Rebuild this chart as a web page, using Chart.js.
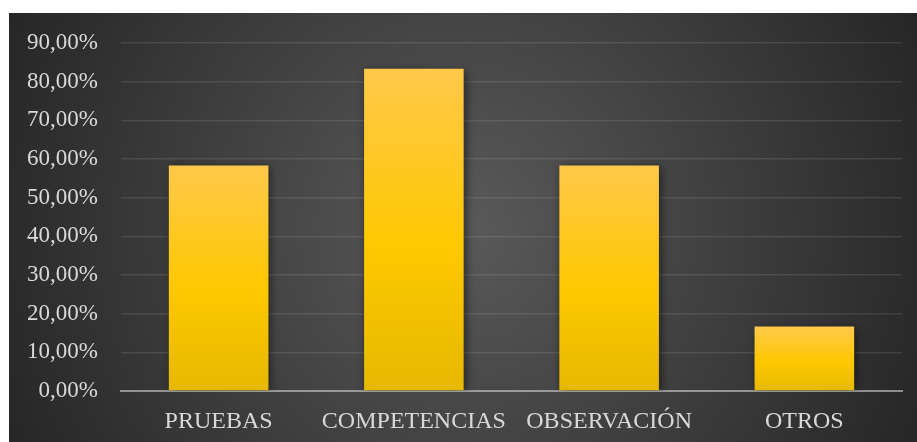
<!DOCTYPE html>
<html>
<head>
<meta charset="utf-8">
<script src="https://cdn.jsdelivr.net/npm/chart.js@4/dist/chart.umd.min.js"></script>
<style>
  html, body { margin: 0; padding: 0; background: #fff; }
  #wrap { position: absolute; left: 9px; top: 13px; width: 908px; height: 429px; }
</style>
</head>
<body>
<div id="wrap"><canvas id="chart"></canvas></div>
<script>
const categories = ["PRUEBAS", "COMPETENCIAS", "OBSERVACIÓN", "OTROS"];
const percentages = [58.33, 83.33, 58.33, 16.67];
const yTicks = [0, 10, 20, 30, 40, 50, 60, 70, 80, 90];

const FONT = "'Liberation Serif', 'Times New Roman', serif";
const TEXT = "#d9d9d9";

// dark radial background like the office style
const bgPlugin = {
  id: "bg",
  beforeDraw(chart) {
    const { ctx, width, height } = chart;
    const cx = width / 2, cy = height / 2;
    const g = ctx.createRadialGradient(cx, cy, 0, cx, cy, Math.sqrt(cx * cx + cy * cy));
    g.addColorStop(0, "#5a5a5a");
    g.addColorStop(1, "#262626");
    ctx.save();
    ctx.fillStyle = g;
    ctx.fillRect(0, 0, width, height);
    ctx.restore();
  }
};

// soft shadow behind the bars
const shadowPlugin = {
  id: "barShadow",
  beforeDatasetsDraw(chart) {
    const ctx = chart.ctx;
    ctx.save();
    ctx.shadowColor = "rgba(0,0,0,0.55)";
    ctx.shadowBlur = 9;
    ctx.shadowOffsetX = 2;
    ctx.shadowOffsetY = 2;
  },
  afterDatasetsDraw(chart) {
    chart.ctx.restore();
  }
};

function barFill(context) {
  const chart = context.chart;
  const { chartArea } = chart;
  if (!chartArea) return "#ffc800";
  const yScale = chart.scales.y;
  const v = context.raw;
  const top = yScale.getPixelForValue(v);
  const base = yScale.getPixelForValue(0);
  const g = chart.ctx.createLinearGradient(0, top, 0, base);
  g.addColorStop(0, "#ffc84a");
  g.addColorStop(0.55, "#ffc800");
  g.addColorStop(1, "#e6b800");
  return g;
}

new Chart(document.getElementById("chart"), {
  type: "bar",
  data: {
    labels: categories,
    datasets: [{
      data: percentages,
      backgroundColor: barFill,
      borderWidth: 0,
      categoryPercentage: 1,
      barPercentage: 0.51
    }]
  },
  options: {
    responsive: true,
    maintainAspectRatio: false,
    animation: false,
    layout: { padding: { top: 30, right: 15, left: 0, bottom: 0 } },
    plugins: {
      legend: { display: false },
      tooltip: { enabled: false }
    },
    scales: {
      x: {
        z: 1,
        grid: { display: false },
        border: { display: true, color: "rgba(210,210,210,0.6)", width: 2 },
        ticks: { color: TEXT, font: { family: FONT, size: 24 }, padding: 8, maxRotation: 0, autoSkip: false },
        afterFit(scale) { scale.height = 51; }
      },
      y: {
        min: 0,
        max: 90,
        afterBuildTicks(scale) { scale.ticks = yTicks.map(v => ({ value: v })); },
        grid: {
          color: ctx => ctx.tick && ctx.tick.value === 0 ? "rgba(0,0,0,0)" : "rgba(255,255,255,0.1)",
          lineWidth: 1.5,
          drawTicks: false
        },
        border: { display: false },
        ticks: {
          color: TEXT,
          font: { family: FONT, size: 23 },
          padding: 23,
          callback: v => v.toFixed(2).replace(".", ",") + "%"
        },
        afterFit(scale) {
          scale.width = 112;
          scale.paddingTop = 0;
          scale.paddingBottom = 0;
        }
      }
    }
  },
  plugins: [bgPlugin, shadowPlugin]
});
</script>
</body>
</html>
